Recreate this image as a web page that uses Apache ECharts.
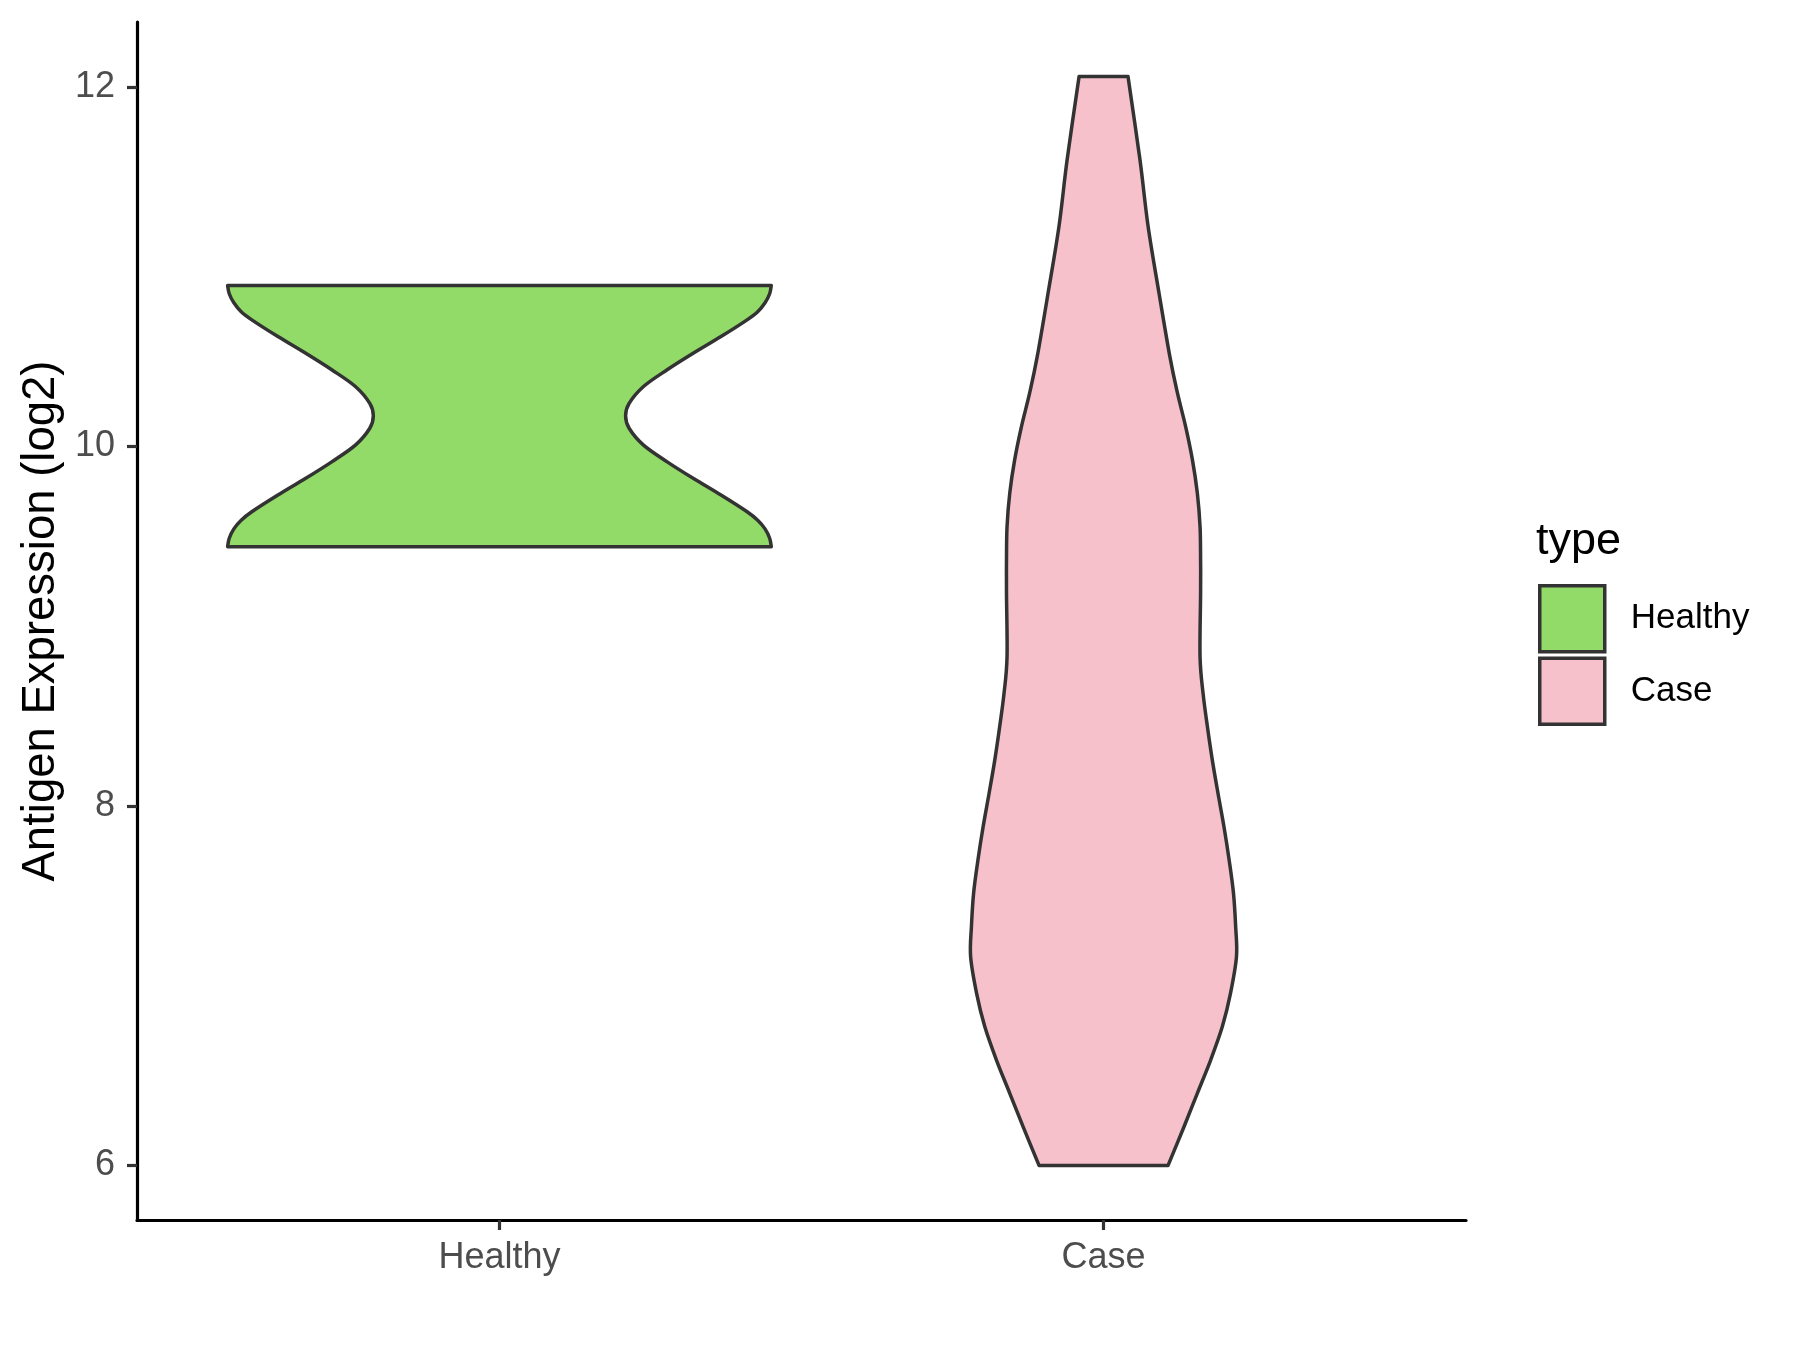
<!DOCTYPE html>
<html>
<head>
<meta charset="utf-8">
<script src="https://cdn.jsdelivr.net/npm/echarts@6/dist/echarts.min.js"></script>
<style>
  html, body { margin: 0; padding: 0; background: #ffffff; }
  #chart { width: 1800px; height: 1350px; }
</style>
</head>
<body>
<div id="chart"></div>
<script>
// ---- data ----
const categories = ['Healthy', 'Case'];
const legendTitle = 'type';
const yAxisTitle = 'Antigen Expression (log2)';
const yTicks = [6, 8, 10, 12];

// violin outlines: y value and half-width as fraction of the maximum violin half-width
const healthyY = [10.896, 10.85, 10.80, 10.75, 10.705, 10.612, 10.52, 10.427, 10.334, 10.24, 10.171,
                  10.102, 10.008, 9.915, 9.822, 9.73, 9.637, 9.59, 9.542, 9.49, 9.443];
const healthyW = [1.000, 0.994, 0.977, 0.950, 0.911, 0.815, 0.714, 0.617, 0.530, 0.477, 0.464,
                  0.477, 0.530, 0.617, 0.714, 0.815, 0.911, 0.950, 0.977, 0.994, 1.000];

const caseY = [12.059, 11.595, 11.224, 10.854, 10.50, 10.297, 10.111, 9.926, 9.741, 9.555,
               9.37, 9.184, 8.83, 8.628, 8.442, 8.257, 8.071, 7.885, 7.70, 7.515, 7.329,
               7.162, 6.958, 6.773, 6.587, 6.402, 6.216, 6.0];
const caseW = [0.090, 0.134, 0.164, 0.204, 0.244, 0.272, 0.302, 0.327, 0.345, 0.355,
               0.357, 0.357, 0.355, 0.366, 0.382, 0.400, 0.421, 0.443, 0.462, 0.478, 0.486,
               0.489, 0.467, 0.437, 0.394, 0.345, 0.296, 0.237];

const fillColors = ['#93DB69', '#F7C1CC'];
const outlineColor = '#333333';
const FONT = 'Liberation Sans, Arial, Helvetica, sans-serif';

// ---- scales (ggplot-like expansion) ----
const allY = healthyY.concat(caseY);
const dMin = Math.min.apply(null, allY), dMax = Math.max.apply(null, allY);
const yPad = (dMax - dMin) * 0.05;
const yMin = dMin - yPad, yMax = dMax + yPad;
const xMin = 0.4, xMax = categories.length + 0.6;
const HALF = 0.45;

const violins = [
  { y: healthyY, w: healthyW },
  { y: caseY, w: caseW }
];

function catmull(pts) {
  let d = '';
  for (let i = 0; i < pts.length - 1; i++) {
    const p0 = pts[Math.max(i - 1, 0)], p1 = pts[i], p2 = pts[i + 1], p3 = pts[Math.min(i + 2, pts.length - 1)];
    const c1 = [p1[0] + (p2[0] - p0[0]) / 6, p1[1] + (p2[1] - p0[1]) / 6];
    const c2 = [p2[0] - (p3[0] - p1[0]) / 6, p2[1] - (p3[1] - p1[1]) / 6];
    d += ' C' + c1[0] + ' ' + c1[1] + ' ' + c2[0] + ' ' + c2[1] + ' ' + p2[0] + ' ' + p2[1];
  }
  return d;
}

function makeRender(idx) {
  return function (params, api) {
    const pos = api.value(0);
    const v = violins[idx];
    const left = v.y.map((yy, i) => api.coord([pos - v.w[i] * HALF, yy]));
    const right = v.y.map((yy, i) => api.coord([pos + v.w[i] * HALF, yy])).reverse();
    let d = 'M' + left[0][0] + ' ' + left[0][1];
    d += catmull(left);
    d += ' L' + right[0][0] + ' ' + right[0][1];
    d += catmull(right);
    d += ' Z';
    return {
      type: 'path',
      shape: { pathData: d },
      style: { fill: fillColors[idx], stroke: outlineColor, lineWidth: 3.5, lineJoin: 'round' }
    };
  };
}

const chart = echarts.init(document.getElementById('chart'), null, { renderer: 'canvas' });

chart.setOption({
  backgroundColor: '#ffffff',
  animation: false,
  title: {
    text: legendTitle,
    left: 1536,
    top: 519,
    padding: 0,
    textStyle: { fontFamily: FONT, fontSize: 45, fontWeight: 'normal', color: '#000000' }
  },
  legend: {
    orient: 'vertical',
    left: 1538,
    top: 584,
    padding: 0,
    itemWidth: 65,
    itemHeight: 66,
    itemGap: 3,
    icon: 'rect',
    selectedMode: false,
    itemStyle: { borderColor: outlineColor, borderWidth: 3.5 },
    textStyle: { fontFamily: FONT, fontSize: 35, color: '#000000', padding: [0, 0, 0, 21] },
    data: categories.map((c, i) => ({ name: c, itemStyle: { color: fillColors[i] } }))
  },
  grid: { left: 137, right: 334, top: 22, bottom: 130, containLabel: false },
  xAxis: {
    type: 'value',
    min: xMin,
    max: xMax,
    splitLine: { show: false },
    axisLine: { show: true, onZero: false, lineStyle: { color: '#000000', width: 3.2 } },
    axisTick: { show: true, length: 10, customValues: categories.map((c, i) => i + 1),
                lineStyle: { color: outlineColor, width: 3.2 } },
    axisLabel: {
      show: true, margin: 20,
      customValues: categories.map((c, i) => i + 1),
      formatter: v => categories[Math.round(v) - 1] || '',
      fontFamily: FONT, fontSize: 36, color: '#4D4D4D'
    }
  },
  yAxis: {
    type: 'value',
    min: yMin,
    max: yMax,
    name: yAxisTitle,
    nameLocation: 'middle',
    nameRotate: 90,
    nameGap: 72,
    nameTextStyle: { fontFamily: FONT, fontSize: 45.5, color: '#000000' },
    splitLine: { show: false },
    axisLine: { show: true, onZero: false, lineStyle: { color: '#000000', width: 3.2 } },
    axisTick: { show: true, length: 10, customValues: yTicks, lineStyle: { color: outlineColor, width: 3.2 } },
    axisLabel: {
      show: true, margin: 22, customValues: yTicks,
      fontFamily: FONT, fontSize: 36, color: '#4D4D4D'
    }
  },
  series: categories.map((c, i) => ({
    name: c,
    type: 'custom',
    coordinateSystem: 'cartesian2d',
    itemStyle: { color: fillColors[i], borderColor: outlineColor, borderWidth: 3.5 },
    renderItem: makeRender(i),
    clip: false,
    silent: true,
    encode: { x: 0, y: 1 },
    data: [[i + 1, (violins[i].y[0] + violins[i].y[violins[i].y.length - 1]) / 2]]
  }))
});
</script>
</body>
</html>
